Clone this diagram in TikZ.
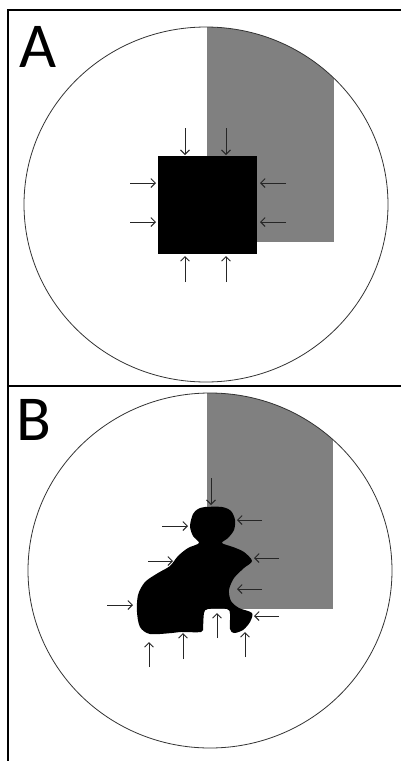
\documentclass[tikz,border=0pt]{standalone}
\usepackage{fontspec}
\setsansfont{Carlito}
\usetikzlibrary{arrows.meta}
\definecolor{regiongray}{HTML}{808080}
\begin{document}
\begin{tikzpicture}[x=1pt,y=-1pt,
  push/.style={line width=0.9pt, draw=black!85, -{Straight Barb[length=4.5pt,width=9pt]}},
  frameline/.style={line width=2.2pt, line cap=rect},
  dish/.style={line width=0.8pt, draw=black!80},
  panellabel/.style={anchor=base west, inner sep=0pt, font=\sffamily\fontsize{64}{64}\selectfont}]
\useasboundingbox (0,0) rectangle (401,761);
\fill[white] (0,0) rectangle (401,761);
% ---------- panel A ----------
\begin{scope}
  \clip (206,204.5) ellipse [x radius=182, y radius=177.5];
  \fill[regiongray] (207,0) rectangle (334,242);
\end{scope}
\draw[dish] (206,204.5) ellipse [x radius=182, y radius=177.5];
\fill[black] (158,156) rectangle (257,254);
\draw[push] (185,128) -- (185,155);
\draw[push] (226,128) -- (226,155);
\draw[push] (130,183) -- (156,183);
\draw[push] (130,222) -- (156,222);
\draw[push] (286,183) -- (260,183);
\draw[push] (286,222) -- (260,222);
\draw[push] (185,282) -- (185,256);
\draw[push] (226,282) -- (226,256);
\node[panellabel] (la) at (19,67) {A};
% ---------- panel B ----------
\begin{scope}
  \clip (210,570.5) ellipse [x radius=182, y radius=177.5];
  \fill[regiongray] (207,380) rectangle (333,609);
\end{scope}
\draw[dish] (210,570.5) ellipse [x radius=182, y radius=177.5];
\fill[black] plot[smooth cycle, tension=0.5] coordinates {
  (205,507) (222,507) (231,511) (235,520) (234,530) (228,538) (222,543)
  (233,547) (244,552) (252,561)
  (244,568) (234,578) (229,590) (231,601) (239,608) (252,613)
  (250,622) (243,630) (234,633) (230,629) (230,614) (227,609) (208,609) (204,613) (203,627) (201,632)
  (180,632) (172,633) (150,634) (140,627) (137,612) (138,595) (145,582) (158,573) (170,566) (178,556)
  (188,548) (199,543) (193,536) (190,526) (193,514) (198,509)};
\draw[push] (211,478) -- (211,505);
\draw[push] (162,526) -- (188,526);
\draw[push] (262,520) -- (237,520);
\draw[push] (148,561) -- (173,561);
\draw[push] (279,558) -- (254,558);
\draw[push] (262,589) -- (237,589);
\draw[push] (107,605) -- (133,605);
\draw[push] (279,616) -- (254,616);
\draw[push] (149,667) -- (149,642);
\draw[push] (183,659) -- (183,633);
\draw[push] (217,638) -- (217,613);
\draw[push] (245,657) -- (245,632);
\node[panellabel] (lb) at (16,440) {B};
% ---------- frame ----------
\draw[frameline] (8,761) -- (8,10) -- (401,10);
\draw[frameline] (8,386) -- (401,386);
\end{tikzpicture}
\end{document}
